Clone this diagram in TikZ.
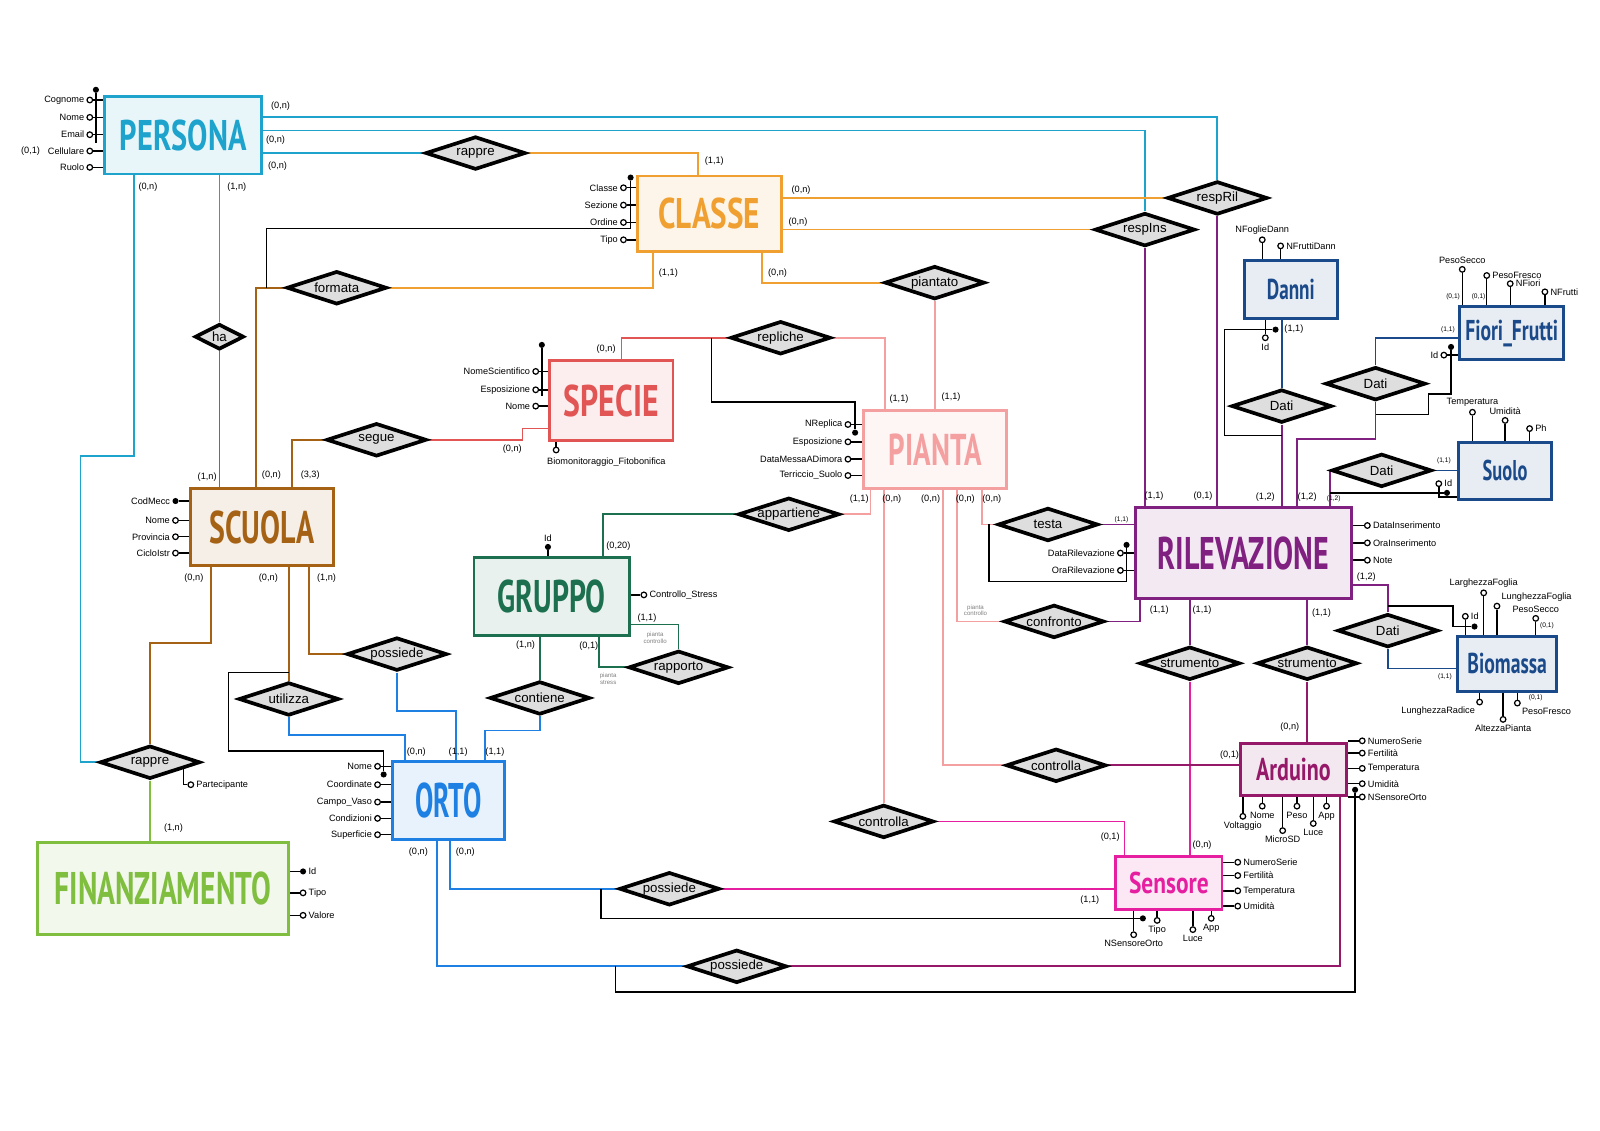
\documentclass[tikz,border=0pt]{standalone}
\usepackage{fontspec}
\usepackage{graphicx}
\setmainfont{Liberation Sans}
\newfontfamily\entfont{PT Sans}
\usetikzlibrary{shapes.geometric}
\definecolor{perscol}{RGB}{29,163,204}
\definecolor{classcol}{RGB}{240,160,48}
\definecolor{specol}{RGB}{226,85,85}
\definecolor{piancol}{RGB}{245,160,160}
\definecolor{scuocol}{RGB}{166,98,20}
\definecolor{grupcol}{RGB}{28,112,80}
\definecolor{rilcol}{RGB}{128,32,128}
\definecolor{datcol}{RGB}{26,74,138}
\definecolor{ortocol}{RGB}{30,128,226}
\definecolor{fincol}{RGB}{128,190,64}
\definecolor{senscol}{RGB}{230,30,160}
\definecolor{ardcol}{RGB}{150,25,105}
\definecolor{relgray}{RGB}{222,222,222}
\newcommand{\entname}[3]{\resizebox{#1pt}{#2pt}{\entfont\bfseries #3}}
\newcommand{\attfont}{\fontsize{9}{9}\selectfont}
\newcommand{\cardfont}{\fontsize{9}{9}\selectfont}
\pgfdeclarelayer{links}
\pgfsetlayers{links,main}

\begin{document}
\begin{tikzpicture}[x=1pt, y=-1pt,
  ent/.style={rectangle, draw=#1, fill=#1!10, text=#1, line width=2.8pt, inner sep=0pt},
  rel/.style={diamond, aspect=3.1, draw=black, fill=relgray, line width=3.6pt, minimum width=98pt, minimum height=32.5pt, inner sep=0pt, font=\fontsize{13}{13}\selectfont},
  att/.style={circle, draw=black, fill=white, line width=1.2pt, minimum size=5.5pt, inner sep=0pt},
  key/.style={circle, fill=black, minimum size=6pt, inner sep=0pt},
  lab/.style={font=\attfont, inner sep=2pt},
  stem/.style={line width=1.4pt},
  link/.style={line width=1.7pt, draw=#1},
  card/.style={font=\cardfont, inner sep=0pt},
  smallcard/.style={font=\fontsize{6.5}{6.5}\selectfont, inner sep=0pt},
  note/.style={font=\fontsize{6}{6.5}\selectfont, text=gray, align=center, inner sep=0pt}]
\useasboundingbox (0,0) rectangle (1568,1108);

% entities
\node[ent=perscol, minimum width=154pt, minimum height=76pt] (persona) at (179.5,132.5) {\entname{124}{30}{PERSONA}};
\node[ent=classcol, minimum width=141pt, minimum height=74pt] (classe) at (695,209.5) {\entname{100}{30}{CLASSE}};
\node[ent=specol, minimum width=121pt, minimum height=78pt] (specie) at (599,392.5) {\entname{93}{31}{SPECIE}};
\node[ent=piancol, minimum width=140pt, minimum height=76pt] (pianta) at (916.5,440.5) {\entname{91}{31}{PIANTA}};
\node[ent=scuocol, minimum width=140pt, minimum height=76pt] (scuola) at (256.5,516.5) {\entname{103}{32}{SCUOLA}};
\node[ent=grupcol, minimum width=152pt, minimum height=76pt] (gruppo) at (540.5,584.5) {\entname{106}{32}{GRUPPO}};
\node[ent=ortocol, minimum width=110pt, minimum height=76pt] (orto) at (439.5,784.5) {\entname{65}{34}{ORTO}};
\node[ent=fincol, minimum width=246pt, minimum height=90pt] (finanz) at (159.5,870.5) {\entname{212}{32}{FINANZIAMENTO}};
\node[ent=rilcol, minimum width=212pt, minimum height=89pt] (rilevazione) at (1218.5,542) {\entname{168}{32}{RILEVAZIONE}};
\node[ent=datcol, minimum width=91pt, minimum height=57pt] (danni) at (1265,284) {\entname{47}{20}{Danni}};
\node[ent=datcol, minimum width=102pt, minimum height=52pt] (fiori) at (1481.5,326.5) {\entname{91}{20}{Fiori\_Frutti}};
\node[ent=datcol, minimum width=91pt, minimum height=56pt] (suolo) at (1475,461.5) {\entname{44}{20}{Suolo}};
\node[ent=datcol, minimum width=97pt, minimum height=54pt] (biomassa) at (1477,650.5) {\entname{78}{20}{Biomassa}};
\node[ent=ardcol, minimum width=104pt, minimum height=51pt] (arduino) at (1267.5,754) {\entname{73}{22}{Arduino}};
\node[ent=senscol, minimum width=104pt, minimum height=52pt] (sensore) at (1145.5,865.5) {\entname{78}{21}{Sensore}};

% relationships
\node[rel] (rappreA) at (466,150) {rappre};
\node[rel] (formata) at (330,282) {formata};
\node[rel, minimum width=48pt, minimum height=25pt] (ha) at (215,330) {ha};
\node[rel] (segue) at (369,431) {segue};
\node[rel] (repliche) at (765,331) {repliche};
\node[rel] (piantato) at (916,277) {piantato};
\node[rel] (respRil) at (1193,194) {respRil};
\node[rel] (respIns) at (1122,225) {respIns};
\node[rel] (datiD) at (1256,398) {Dati};
\node[rel] (datiF) at (1348,376) {Dati};
\node[rel] (datiS) at (1354,461) {Dati};
\node[rel] (datiB) at (1360,618) {Dati};
\node[rel] (appartiene) at (773,504) {appartiene};
\node[rel] (testa) at (1027,514) {testa};
\node[rel] (confronto) at (1033,609) {confronto};
\node[rel] (strumA) at (1166,650) {strumento};
\node[rel] (strumB) at (1281,650) {strumento};
\node[rel] (possA) at (389,641) {possiede};
\node[rel] (utilizza) at (283,685) {utilizza};
\node[rel] (contiene) at (529,684) {contiene};
\node[rel] (rapporto) at (665,654) {rapporto};
\node[rel] (rappreB) at (147,747) {rappre};
\node[rel] (controllaA) at (1035,750) {controlla};
\node[rel] (controllaB) at (866,805) {controlla};
\node[rel] (possB) at (656,871) {possiede};
\node[rel] (possC) at (722,947) {possiede};

% links
\begin{pgfonlayer}{links}
\fill[white] (0,0) rectangle (1568,1108);
\draw[link=perscol] (persona.east |- 0,115) -| (respRil.north);
\draw[link=perscol] (persona.east |- 0,128) -| (respIns.north);
\draw[link=perscol] (persona.east |- rappreA.west) -- (rappreA.west);
\draw[link=perscol] (131,0 |- persona.south) |- (79,447) |- (rappreB.west);
\draw[link=perscol] (ha.north |- persona.south) -- (ha.north);
\draw[link=classcol] (rappreA.east) -| (684,0 |- classe.north);
\draw[link=classcol] (classe.east |- respRil.west) -- (respRil.west);
\draw[link=classcol] (classe.east |- respIns.west) -- (respIns.west);
\draw[link=classcol] (640,0 |- classe.south) |- (formata.east);
\draw[link=classcol] (747,0 |- classe.south) |- (piantato.west);
\draw[link=scuocol] (formata.west) -| (251,0 |- scuola.north);
\draw[link=scuocol] (ha.south) -- (ha.south |- scuola.north);
\draw[link=scuocol] (segue.west) -| (286,0 |- scuola.north);
\draw[link=scuocol] (207,0 |- scuola.south) |- (rappreB.north |- 0,630) -- (rappreB.north);
\draw[link=scuocol] (utilizza.north |- scuola.south) -- (utilizza.north);
\draw[link=scuocol] (303,0 |- scuola.south) |- (possA.west);
\draw[link=specol] (specie.west |- 0,420) -| (512,0 |- segue.east) -- (segue.east);
\draw[link=specol] (609,0 |- specie.north) |- (repliche.west);
\draw[link=piancol] (repliche.east) -| (867,0 |- pianta.north);
\draw[link=piancol] (piantato.south) -- (piantato.south |- pianta.north);
\draw[link=piancol] (appartiene.east) -| (853,0 |- pianta.south);
\draw[link=piancol] (controllaB.north |- pianta.south) -- (controllaB.north);
\draw[link=piancol] (924,0 |- pianta.south) |- (controllaA.west);
\draw[link=piancol] (938,0 |- pianta.south) |- (confronto.west);
\draw[link=piancol] (962,0 |- pianta.south) |- (testa.west);
\draw[link=grupcol] (591,0 |- gruppo.north) |- (appartiene.west);
\draw[link=grupcol] (contiene.north |- gruppo.south) -- (contiene.north);
\draw[link=grupcol] (gruppo.east |- 0,612) -| (rapporto.north);
\draw[link=grupcol] (587,0 |- gruppo.south) |- (rapporto.west);
\draw[link=ortocol] (utilizza.south) |- (397,720) -- (397,0 |- orto.north);
\draw[link=ortocol] (possA.south) |- (447,697) -- (447,0 |- orto.north);
\draw[link=ortocol] (contiene.south) |- (475,716) -- (475,0 |- orto.north);
\draw[link=ortocol] (441,0 |- orto.south) |- (possB.west);
\draw[link=ortocol] (428,0 |- orto.south) |- (possC.west);
\draw[link=rilcol] (respIns.south) -- (respIns.south |- rilevazione.north);
\draw[link=rilcol] (respRil.south) -- (respRil.south |- rilevazione.north);
\draw[link=rilcol] (datiD.south) -- (datiD.south |- rilevazione.north);
\draw[link=rilcol] (datiF.south) |- (1271,430) -- (1271,0 |- rilevazione.north);
\draw[link=rilcol] (datiS.west |- rilevazione.north) -- (datiS.west);
\draw[link=rilcol] (testa.east) -- (rilevazione.west |- testa.east);
\draw[link=rilcol] (confronto.east) -| (1117,0 |- rilevazione.south);
\draw[link=rilcol] (strumA.north |- rilevazione.south) -- (strumA.north);
\draw[link=rilcol] (strumB.north |- rilevazione.south) -- (strumB.north);
\draw[link=rilcol] (rilevazione.east |- 0,573) -| (datiB.north);
\draw[link=datcol] (datiD.north |- danni.south) -- (datiD.north);
\draw[link=datcol] (fiori.west |- 0,331) -| (datiF.north);
\draw[link=datcol] (datiS.east) -- (suolo.west |- datiS.east);
\draw[link=datcol] (datiB.south) |- (biomassa.west |- 0,655);
\draw[link=senscol] (strumA.south) -- (strumA.south |- sensore.north);
\draw[link=senscol] (controllaB.east) -| (1102,0 |- sensore.north);
\draw[link=senscol] (possB.east) -- (sensore.west |- possB.east);
\draw[link=ardcol] (strumB.south) -- (strumB.south |- arduino.north);
\draw[link=ardcol] (controllaA.east) -- (arduino.west |- controllaA.east);
\draw[link=ardcol] (possC.east) -| (1313,0 |- arduino.south);
\draw[link=fincol] (rappreB.south) -- (rappreB.south |- finanz.north);
\end{pgfonlayer}

% identifiers
\node[key] (pers-id) at (94,88) {};
\draw[stem] (pers-id) -- (94,140);
\node[key] (classe-id) at (618,174) {};
\draw[stem] (classe-id) -- (618,224) -| (261,282);
\node[key] (specie-id) at (531,338) {};
\draw[stem] (specie-id) -- (531,388);
\node[key] (pianta-id) at (838,424) {};
\draw[stem] (697,0 |- repliche.west) |- (838,394) -- (pianta-id);
\node[key] (orto-id) at (376,759) {};
\draw[stem] (283,659) -| (224,736) -| (orto-id);
\node[key] (ril-id) at (1104,534) {};
\draw[stem] (ril-id) |- (969,570) -- (969,0 |- testa.west);
\node[key] (danni-id) at (1250,323) {};
\draw[stem] (danni-id) -| (1200,427) -- (datiD.south |- 0,427);
\node[key] (fiori-id) at (1422,340) {};
\draw[stem] (fiori-id) |- (1400,386) |- (datiF.south |- 0,406);
\node[key] (suolo-id) at (1418,483) {};
\draw[stem] (datiS.west |- suolo-id) -- (suolo-id);
\node[key] (bio-id) at (1445,614) {};
\draw[stem] (datiB.north |- 0,594) -| (1424,614) -- (bio-id);
\node[key] (sens-id) at (1120,900) {};
\draw[stem] (589,0 |- possB.west) |- (sens-id);
\node[key] (ard-id) at (1328,774) {};
\draw[stem] (ard-id) |- (603,972) -- (603,0 |- possC.west);

% attributes, left side
\foreach \n/\y/\t in {1/98/Cognome, 2/115/Nome, 3/132/Email, 4/148/Cellulare, 5/164/Ruolo}
  {\node[att, label={[lab]left:\t}] (pers-\n) at (88,\y) {};
   \draw[stem] (pers-\n) -- (pers-\n -| persona.west);}
\foreach \n/\y/\t in {1/184/Classe, 2/201/Sezione, 3/218/Ordine, 4/235/Tipo}
  {\node[att, label={[lab]left:\t}] (cla-\n) at (611,\y) {};
   \draw[stem] (cla-\n) -- (cla-\n -| classe.west);}
\foreach \n/\y/\t in {1/364/NomeScientifico, 2/382/Esposizione, 3/398/Nome}
  {\node[att, label={[lab]left:\t}] (spe-\n) at (525,\y) {};
   \draw[stem] (spe-\n) -- (spe-\n -| specie.west);}
\foreach \n/\y/\t in {1/416/NReplica, 2/433/Esposizione, 3/450/DataMessaADimora, 4/466/Terriccio\_Suolo}
  {\node[att, label={[lab]left:\t}] (pia-\n) at (831,\y) {};
   \draw[stem] (pia-\n) -- (pia-\n -| pianta.west);}
\node[key, label={[lab]left:CodMecc}] (scu-1) at (172,491) {};
\draw[stem] (scu-1) -- (scu-1 -| scuola.west);
\foreach \n/\y/\t in {2/510/Nome, 3/526/Provincia, 4/542/CicloIstr}
  {\node[att, label={[lab]left:\t}] (scu-\n) at (172,\y) {};
   \draw[stem] (scu-\n) -- (scu-\n -| scuola.west);}
\foreach \n/\y/\t in {1/751/Nome, 2/769/Coordinate, 3/786/Campo\_Vaso, 4/802/Condizioni, 5/818/Superficie}
  {\node[att, label={[lab]left:\t}] (ort-\n) at (370,\y) {};
   \draw[stem] (ort-\n) -- (ort-\n -| orto.west);}
\foreach \n/\y/\t in {1/542/DataRilevazione, 2/559/OraRilevazione}
  {\node[att, label={[lab]left:\t}] (ril-\n) at (1098,\y) {};
   \draw[stem] (ril-\n) -- (ril-\n -| rilevazione.west);}
\node[att, label={[lab]left:Id}] (fio-5) at (1415,348) {};
\draw[stem] (fio-5) -- (fio-5 -| fiori.west);

% attributes, right side
\foreach \n/\y/\t in {3/515/DataInserimento, 4/532/OraInserimento, 5/549/Note}
  {\node[att, label={[lab]right:\t}] (ril-\n) at (1340,\y) {};
   \draw[stem] (ril-\n) -- (ril-\n -| rilevazione.east);}
\node[key, label={[lab]right:Id}] (fin-1) at (297,854) {};
\draw[stem] (fin-1) -- (fin-1 -| finanz.east);
\foreach \n/\y/\t in {2/875/Tipo, 3/897/Valore}
  {\node[att, label={[lab]right:\t}] (fin-\n) at (297,\y) {};
   \draw[stem] (fin-\n) -- (fin-\n -| finanz.east);}
\node[att, label={[lab]right:Controllo\_Stress}] (gru-2) at (631,583) {};
\draw[stem] (gru-2) -- (gru-2 -| gruppo.east);
\foreach \n/\y/\t in {1/726/NumeroSerie, 2/738/Fertilità, 3/753/Temperatura, 4/768/Umidità, 5/781/NSensoreOrto}
  {\node[att, label={[lab]right:\t}] (ard-\n) at (1335,\y) {};
   \draw[stem] (ard-\n) -- (ard-\n -| arduino.east);}
\foreach \n/\y/\t in {1/845/NumeroSerie, 2/858/Fertilità, 3/873/Temperatura, 4/888/Umidità}
  {\node[att, label={[lab]right:\t}] (sen-\n) at (1213,\y) {};
   \draw[stem] (sen-\n) -- (sen-\n -| sensore.east);}
\node[att, label={[lab]right:Partecipante}] (rap-1) at (187,769) {};
\draw[stem] (rap-1) -| (180,754);

% attributes, top and bottom
\node[key, label={[lab]above:Id}] (gru-1) at (537,536) {};
\draw[stem] (gru-1) -- (gru-1 |- gruppo.north);
\node[att] (spe-4) at (545,441) {};
\draw[stem] (spe-4) -- (spe-4 |- specie.south);
\node[lab, anchor=north west] (spe-4-lab) at (534,446) {Biomonitoraggio\_Fitobonifica};
\node[att, label={[lab]above:NFoglieDann}] (dan-1) at (1237,235) {};
\node[att, label={[lab]right:NFruttiDann}] (dan-2) at (1255,241) {};
\foreach \n in {1,2} \draw[stem] (dan-\n) -- (dan-\n |- danni.north);
\node[att, label={[lab]below:Id}] (dan-3) at (1240,331) {};
\draw[stem] (dan-3) -- (dan-3 |- danni.south);
\node[att, label={[lab]above:PesoSecco}] (fio-1) at (1433,264) {};
\node[att, label={[lab]right:PesoFresco}] (fio-2) at (1457,270) {};
\node[att, label={[lab]right:NFiori}] (fio-3) at (1480,278) {};
\node[att, label={[lab]right:NFrutti}] (fio-4) at (1514,286) {};
\foreach \n in {1,...,4} \draw[stem] (fio-\n) -- (fio-\n |- fiori.north);
\node[att, label={[lab]above:Temperatura}] (suo-1) at (1443,404) {};
\node[att, label={[lab]above:Umidità}] (suo-2) at (1475,412) {};
\node[att, label={[lab]right:Ph}] (suo-3) at (1499,420) {};
\foreach \n in {1,2,3} \draw[stem] (suo-\n) -- (suo-\n |- suolo.north);
\node[att, label={[lab]right:Id}] (suo-4) at (1410,474) {};
\draw[stem] (suo-4) |- (suolo.west |- 0,487);
\node[att, label={[lab]right:Id}] (bio-1) at (1436,604) {};
\node[att, label={[lab]above:LarghezzaFoglia}] (bio-2) at (1454,581) {};
\node[att, label={[lab]above right:LunghezzaFoglia}] (bio-3) at (1467,594) {};
\node[att, label={[lab]above:PesoSecco}] (bio-4) at (1505,606) {};
\foreach \n in {1,...,4} \draw[stem] (bio-\n) -- (bio-\n |- biomassa.north);
\node[att, label={[lab]below left:LunghezzaRadice}] (bio-5) at (1450,688) {};
\node[att, label={[lab]below:AltezzaPianta}] (bio-6) at (1473,705) {};
\node[att, label={[lab]below right:PesoFresco}] (bio-7) at (1487,689) {};
\foreach \n in {5,6,7} \draw[stem] (bio-\n) -- (bio-\n |- biomassa.south);
\foreach \n/\x/\y/\t in {1/1218/800/Voltaggio, 2/1237/790/Nome, 3/1257/814/MicroSD, 4/1271/790/Peso, 5/1287/807/Luce, 6/1300/790/App}
  {\node[att, label={[lab]below:\t}] (ard-b\n) at (\x,\y) {};
   \draw[stem] (ard-b\n) -- (ard-b\n |- arduino.south);}
\foreach \n/\x/\y/\t in {1/1111/916/NSensoreOrto, 2/1134/902/Tipo, 3/1169/911/Luce, 4/1187/900/App}
  {\node[att, label={[lab]below:\t}] (sen-b\n) at (\x,\y) {};
   \draw[stem] (sen-b\n) -- (sen-b\n |- sensore.south);}

% cardinalities
\foreach \x/\y/\t [count=\i] in {275/104/{(0,n)}, 270/137/{(0,n)}, 272/163/{(0,n)}, 145/183/{(0,n)}, 232/183/{(1,n)}, 30/148/{(0,1)},
  700/158/{(1,1)}, 785/186/{(0,n)}, 782/218/{(0,n)}, 655/268/{(1,1)}, 762/268/{(0,n)}, 594/342/{(0,n)}, 502/440/{(0,n)},
  881/391/{(1,1)}, 932/389/{(1,1)}, 203/468/{(1,n)}, 266/466/{(0,n)}, 304/466/{(3,3)}, 190/567/{(0,n)}, 263/567/{(0,n)},
  320/567/{(1,n)}, 606/535/{(0,20)}, 634/606/{(1,1)}, 515/632/{(1,n)}, 577/633/{(0,1)}, 408/737/{(0,n)}, 449/737/{(1,1)},
  485/737/{(1,1)}, 410/835/{(0,n)}, 456/835/{(0,n)}, 170/812/{(1,n)}, 1131/486/{(1,1)}, 1179/486/{(0,1)}, 1240/487/{(1,2)},
  1281/487/{(1,2)}, 1136/598/{(1,1)}, 1178/598/{(1,1)}, 1295/601/{(1,1)}, 1339/566/{(1,2)}, 1268/323/{(1,1)},
  1264/713/{(0,n)}, 1205/740/{(0,1)}, 1088/820/{(0,1)}, 1178/828/{(0,n)}, 1068/882/{(1,1)}, 842/489/{(1,1)},
  874/489/{(0,n)}, 912/489/{(0,n)}, 946/489/{(0,n)}, 972/489/{(0,n)}}
  \node[card] (card-\i) at (\x,\y) {\t};
\foreach \x/\y/\t [count=\i] in {1307/489/{(1,2)}, 1099/509/{(1,1)}, 1419/323/{(1,1)}, 1424/291/{(0,1)}, 1449/291/{(0,1)},
  1415/452/{(1,1)}, 1416/663/{(1,1)}, 1516/613/{(0,1)}, 1505/684/{(0,1)}}
  \node[smallcard] (scard-\i) at (\x,\y) {\t};
\node[note] (note-1) at (642,625) {pianta\\controllo};
\node[note] (note-2) at (596,665) {pianta\\stress};
\node[note] (note-3) at (956,598) {pianta\\controllo};
\end{tikzpicture}
\end{document}
